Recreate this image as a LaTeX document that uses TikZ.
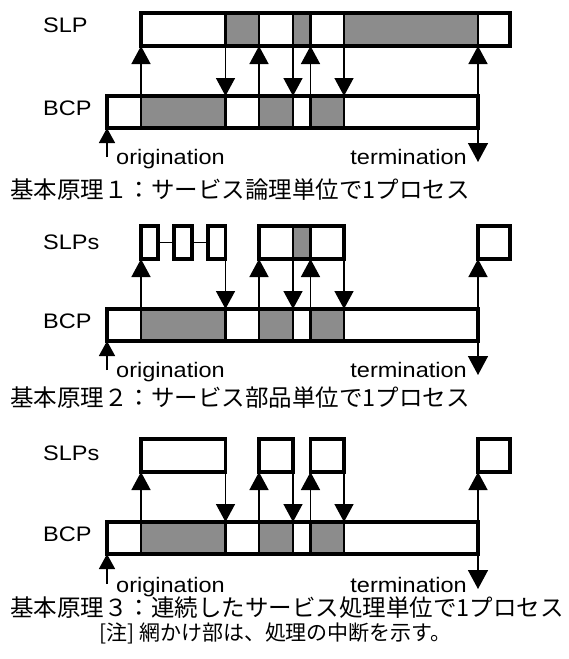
\documentclass[tikz,border=0pt]{standalone}
\usepackage{fontspec}
\newfontfamily\lat{Liberation Sans}[FakeStretch=1.12]
\newfontfamily\cjk{Noto Sans CJK JP}
\usetikzlibrary{arrows.meta}
\tikzset{
  frame/.style={draw, line width=3.4pt, inner sep=0pt, outer sep=0pt, line join=miter},
  shd/.style={fill=black!45},
  divl/.style={line width=2.4pt},
  upar/.style={line width=1.5pt, -{Triangle[length=18pt,width=19pt]}},
  dnar/.style={line width=1.5pt, -{Triangle[length=18pt,width=19pt]}},
  trar/.style={line width=1.5pt, -{Triangle[length=19pt,width=20pt]}},
  orar/.style={line width=1.5pt, -{Triangle[length=15pt,width=16pt]}},
  lbl/.style={font=\lat\fontsize{21}{21}\selectfont, inner sep=0pt},
  captxt/.style={font=\cjk\fontsize{23.5}{23.5}\selectfont, inner sep=0pt, anchor=west},
  link/.style={line width=1.5pt},
}
\begin{document}
\begin{tikzpicture}[x=1pt,y=-1pt]
\fill[white] (0,0) rectangle (568,659);
\useasboundingbox (0,0) rectangle (568,659);
% x positions of the events
\coordinate (xa) at (141,0);
\coordinate (xb) at (225.5,0);
\coordinate (xc) at (259,0);
\coordinate (xd) at (293,0);
\coordinate (xe) at (310.5,0);
\coordinate (xf) at (344,0);
\coordinate (xg) at (478,0);

% ================= Panel 1 =================
\fill[shd] (225.5,13) rectangle (259,46);
\fill[shd] (293,13) rectangle (310.5,46);
\fill[shd] (344,13) rectangle (478,46);
\fill[shd] (141,96) rectangle (225.5,128);
\fill[shd] (259,96) rectangle (293,128);
\fill[shd] (310.5,96) rectangle (344,128);
\foreach \x in {225.5,259,293,310.5,344,478} \draw[divl] (\x,13) -- (\x,46);
\foreach \x in {141,225.5,259,293,310.5,344} \draw[divl] (\x,96) -- (\x,128);
\node[frame, minimum width=369pt, minimum height=33pt] (slp1) at (325.5,29.5) {};
\node[frame, minimum width=371pt, minimum height=32pt] (bcp1) at (292.5,112) {};
\node[lbl, anchor=west] (lslp1) at (43,25.5) {SLP};
\node[lbl, anchor=west] (lbcp1) at (43,108) {BCP};
\draw[upar] (bcp1.north -| xa) -- (slp1.south -| xa);
\draw[upar] (bcp1.north -| xc) -- (slp1.south -| xc);
\draw[upar] (bcp1.north -| xe) -- (slp1.south -| xe);
\draw[upar] (bcp1.north -| xg) -- (slp1.south -| xg);
\draw[dnar] (slp1.south -| xb) -- (bcp1.north -| xb);
\draw[dnar] (slp1.south -| xd) -- (bcp1.north -| xd);
\draw[dnar] (slp1.south -| xf) -- (bcp1.north -| xf);
\coordinate (o1) at (107,157);
\coordinate (t1) at (478,162);
\draw[orar] (o1) -- (bcp1.south west);
\draw[trar] (bcp1.south east) -- (t1);
\node[lbl, anchor=base west] (orig1) at (116,164.5) {origination};
\node[lbl, anchor=base east] (term1) at (467,164.5) {termination};
\node[captxt] (cap1) at (10,189.5) {基本原理１：サービス論理単位で1プロセス};

% ================= Panel 2 =================
\fill[shd] (293,226) rectangle (310.5,259);
\fill[shd] (141,309) rectangle (225.5,341);
\fill[shd] (259,309) rectangle (293,341);
\fill[shd] (310.5,309) rectangle (344,341);
\foreach \x in {293,310.5} \draw[divl] (\x,226) -- (\x,259);
\foreach \x in {141,225.5,259,293,310.5,344} \draw[divl] (\x,309) -- (\x,341);
\node[frame, minimum width=17pt, minimum height=33pt] (p2b1) at (149.5,242.5) {};
\node[frame, minimum width=18pt, minimum height=33pt] (p2b2) at (183,242.5) {};
\node[frame, minimum width=17.5pt, minimum height=33pt] (p2b3) at (216.75,242.5) {};
\node[frame, minimum width=85pt, minimum height=33pt] (p2g) at (301.5,242.5) {};
\node[frame, minimum width=32pt, minimum height=33pt] (p2r) at (494,242.5) {};
\draw[link] (p2b1.east) -- (p2b2.west);
\draw[link] (p2b2.east) -- (p2b3.west);
\node[frame, minimum width=371pt, minimum height=32pt] (bcp2) at (292.5,325) {};
\node[lbl, anchor=west] (lslp2) at (43,242) {SLPs};
\node[lbl, anchor=west] (lbcp2) at (43,321.5) {BCP};
\draw[upar] (bcp2.north -| xa) -- (p2b1.south -| xa);
\draw[dnar] (p2b3.south -| xb) -- (bcp2.north -| xb);
\draw[upar] (bcp2.north -| xc) -- (p2g.south -| xc);
\draw[dnar] (p2g.south -| xd) -- (bcp2.north -| xd);
\draw[upar] (bcp2.north -| xe) -- (p2g.south -| xe);
\draw[dnar] (p2g.south -| xf) -- (bcp2.north -| xf);
\draw[upar] (bcp2.north -| xg) -- (p2r.south -| xg);
\coordinate (o2) at (107,370);
\coordinate (t2) at (478,375);
\draw[orar] (o2) -- (bcp2.south west);
\draw[trar] (bcp2.south east) -- (t2);
\node[lbl, anchor=base west] (orig2) at (116,377.5) {origination};
\node[lbl, anchor=base east] (term2) at (467,377.5) {termination};
\node[captxt] (cap2) at (10,398) {基本原理２：サービス部品単位で1プロセス};

% ================= Panel 3 =================
\fill[shd] (141,522) rectangle (225.5,554);
\fill[shd] (259,522) rectangle (293,554);
\fill[shd] (310.5,522) rectangle (344,554);
\foreach \x in {141,225.5,259,293,310.5,344} \draw[divl] (\x,522) -- (\x,554);
\node[frame, minimum width=84.5pt, minimum height=33pt] (p3a) at (183.25,455.5) {};
\node[frame, minimum width=34pt, minimum height=33pt] (p3b) at (276,455.5) {};
\node[frame, minimum width=33.5pt, minimum height=33pt] (p3c) at (327.25,455.5) {};
\node[frame, minimum width=32pt, minimum height=33pt] (p3d) at (494,455.5) {};
\node[frame, minimum width=371pt, minimum height=32pt] (bcp3) at (292.5,538) {};
\node[lbl, anchor=west] (lslp3) at (43,453.5) {SLPs};
\node[lbl, anchor=west] (lbcp3) at (43,534.5) {BCP};
\draw[upar] (bcp3.north -| xa) -- (p3a.south -| xa);
\draw[dnar] (p3a.south -| xb) -- (bcp3.north -| xb);
\draw[upar] (bcp3.north -| xc) -- (p3b.south -| xc);
\draw[dnar] (p3b.south -| xd) -- (bcp3.north -| xd);
\draw[upar] (bcp3.north -| xe) -- (p3c.south -| xe);
\draw[dnar] (p3c.south -| xf) -- (bcp3.north -| xf);
\draw[upar] (bcp3.north -| xg) -- (p3d.south -| xg);
\coordinate (o3) at (107,584);
\coordinate (t3) at (478,589);
\draw[orar] (o3) -- (bcp3.south west);
\draw[trar] (bcp3.south east) -- (t3);
\node[lbl, anchor=base west] (orig3) at (116,592) {origination};
\node[lbl, anchor=base east] (term3) at (467,592) {termination};
\node[captxt] (cap3) at (10,608) {基本原理３：連続したサービス処理単位で1プロセス};
\node[font=\cjk\fontsize{21}{21}\selectfont, inner sep=0pt] (note) at (275.5,633) {[注] 網かけ部は、処理の中断を示す。};
\end{tikzpicture}
\end{document}
